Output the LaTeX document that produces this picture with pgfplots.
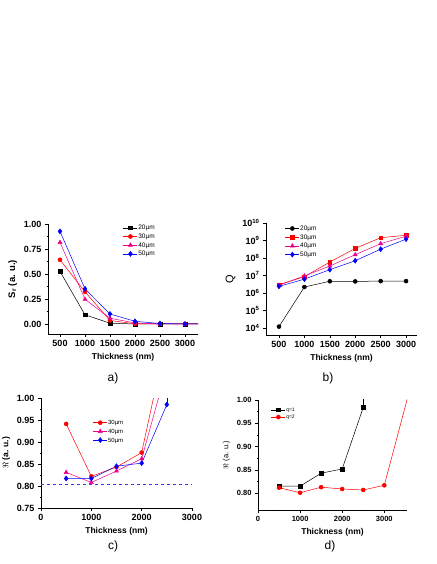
\documentclass[border=0pt]{standalone}
\usepackage{fontspec}
\setmainfont{Liberation Sans}
\usepackage{pgfplots}
\pgfplotsset{compat=1.18}

\definecolor{dashblue}{HTML}{3A3AD8}

\pgfplotsset{
  orig/.style={
    scale only axis,
    anchor=south west,
    axis lines=left,
    axis line style={-, line width=0.6pt},
    tick align=outside,
    major tick length=3pt,
    minor tick length=1.5pt,
    every tick/.style={black, line width=0.5pt},
    tick label style={font=\fontsize{9}{10}\selectfont\bfseries},
    /pgf/number format/assume math mode=true,
    /pgf/number format/1000 sep={},
    label style={font=\fontsize{8.5}{10}\selectfont\bfseries},
    legend style={draw=none, fill=none, anchor=north west,
      font=\fontsize{6.5}{7}\selectfont, inner sep=0pt, row sep=1.5pt,
      nodes={inner sep=0.6pt, text height=5pt, text depth=1pt}},
    legend cell align=left,
    legend image code/.code={\draw[mark repeat=2,mark phase=2,##1]
      plot coordinates {(0pt,0pt) (7pt,0pt) (14pt,0pt)};},
    every axis plot/.append style={line width=0.5pt, mark size=2pt},
  },
}

\begin{document}
\begin{tikzpicture}
\path[use as bounding box] (0pt,0pt) rectangle (436pt,564pt);

% a)
\begin{axis}[orig,
  at={(48pt,230pt)}, width=150pt, height=110pt,
  xmin=260, xmax=3260, ymin=-0.1, ymax=1.0,
  xtick={500,1000,...,3000}, ytick={0,0.25,...,1.0},
  minor x tick num=1, minor y tick num=1,
  yticklabel style={/pgf/number format/.cd, fixed, fixed zerofill, precision=2},
  xlabel={Thickness (nm)}, ylabel={S\textsubscript{r} (a. u.)},
  ylabel style={font=\fontsize{9.5}{10}\selectfont\bfseries},
  legend style={at={(0.5,1.0)}},
]
\addplot[black, mark=square*, mark size=1.8pt] coordinates {(500,0.525) (1000,0.092) (1500,0.008) (2000,0.0) (2500,0.0) (3000,0.0) (3500,0.0)};
\addplot[red, mark=*] coordinates {(500,0.642) (1000,0.322) (1500,0.035) (2000,0.002) (2500,0.0) (3000,0.0) (3500,0.0)};
\addplot[magenta, mark=triangle*, mark size=2.3pt] coordinates {(500,0.816) (1000,0.247) (1500,0.058) (2000,0.01) (2500,0.001) (3000,0.0) (3500,0.0)};
\addplot[blue, mark=diamond*, mark size=2.5pt] coordinates {(500,0.926) (1000,0.352) (1500,0.100) (2000,0.027) (2500,0.005) (3000,0.0) (3500,0.0)};
\legend{20µm,30µm,40µm,50µm}
\end{axis}

% b)
\begin{axis}[orig,
  at={(266pt,229pt)}, width=151pt, height=112pt,
  xmin=245, xmax=3215, ymode=log, log basis y=10, ymin=4e3, ymax=1e10,
  xtick={500,1000,...,3000}, minor x tick num=1,
  ytick={1e4,1e5,1e6,1e7,1e8,1e9,1e10},
  yticklabel={10\textsuperscript{\pgfmathparse{int(round(\tick))}\pgfmathresult}},
  xlabel={Thickness (nm)}, ylabel={Q},
  ylabel style={font=\fontsize{11}{12}\selectfont},
  legend style={at={(0.125,0.985)}},
]
\addplot[black, mark=*] coordinates {(500,1.2e4) (1000,2.2e6) (1500,4.7e6) (2000,4.6e6) (2500,4.8e6) (3000,4.8e6)};
\addplot[red, mark=square*, mark size=1.8pt] coordinates {(500,3.0e6) (1000,8.5e6) (1500,5.9e7) (2000,3.5e8) (2500,1.45e9) (3000,2.0e9)};
\addplot[magenta, mark=triangle*, mark size=2.3pt] coordinates {(500,2.8e6) (1000,9.5e6) (1500,3.5e7) (2000,1.55e8) (2500,6.6e8) (3000,1.75e9)};
\addplot[blue, mark=diamond*, mark size=2.5pt] coordinates {(500,2.4e6) (1000,6.2e6) (1500,2.15e7) (2000,7.0e7) (2500,3.2e8) (3000,1.2e9)};
\legend{20µm,30µm,40µm,50µm}
\end{axis}

% c)
\begin{axis}[orig,
  at={(41pt,56pt)}, width=151pt, height=110pt,
  xmin=0, xmax=3000, ymin=0.75, ymax=1.0,
  xtick={0,1000,2000,3000}, ytick={0.75,0.80,...,1.0},
  minor x tick num=1, minor y tick num=1,
  yticklabel style={/pgf/number format/.cd, fixed, fixed zerofill, precision=2},
  xlabel={Thickness (nm)}, ylabel={$\Re$ (a. u.)},
  legend style={at={(0.343,0.81)}, font=\fontsize{6}{7}\selectfont},
]
\addplot[dashblue, dashed, line width=1pt, forget plot] coordinates {(0,0.804) (3000,0.804)};
\addplot[red, mark=*] coordinates {(500,0.941) (1000,0.822) (1500,0.843) (2000,0.876) (2500,1.14)};
\addplot[magenta, mark=triangle*, mark size=2.3pt] coordinates {(500,0.831) (1000,0.808) (1500,0.834) (2000,0.862) (2500,1.068)};
\addplot[blue, mark=diamond*, mark size=2.5pt,
  error bars/.cd, y dir=plus, y explicit, error mark=none,
  error bar style={blue, line width=0.6pt}] coordinates {(500,0.817) +- (0,0) (1000,0.817) +- (0,0) (1500,0.845) +- (0,0) (2000,0.852) +- (0,0) (2500,0.985) +- (0,0.04)};
\legend{30µm,40µm,50µm}
\end{axis}

% d)
\begin{axis}[orig,
  at={(258pt,54pt)}, width=149pt, height=110pt,
  xmin=0, xmax=3540, ymin=0.764, ymax=1.0,
  xtick={0,1000,2000,3000}, ytick={0.80,0.85,...,1.0},
  minor x tick num=1, minor y tick num=1,
  tick label style={font=\fontsize{7.5}{9}\selectfont\bfseries},
  yticklabel style={/pgf/number format/.cd, fixed, fixed zerofill, precision=2},
  xlabel={Thickness (nm)}, ylabel={$\Re$ (a. u.)},
  ylabel style={font=\fontsize{7.5}{9}\selectfont},
  legend style={at={(0.087,0.94)}, font=\fontsize{5}{6}\selectfont,
    nodes={text height=4pt, text depth=1pt}, row sep=1pt},
]
\addplot[black, mark=square*, mark size=1.8pt,
  error bars/.cd, y dir=plus, y explicit, error mark=none,
  error bar style={black, line width=0.6pt}] coordinates {(500,0.815) +- (0,0) (1000,0.815) +- (0,0) (1500,0.843) +- (0,0) (2000,0.852) +- (0,0) (2500,0.984) +- (0,0.04)};
\addplot[red, mark=*] coordinates {(500,0.812) (1000,0.801) (1500,0.813) (2000,0.809) (2500,0.807) (3000,0.817) (4000,1.156)};
\legend{q=1,q=2}
\end{axis}

\node[font=\fontsize{12}{14}\selectfont] at (113pt,186pt) {a)};
\node[font=\fontsize{12}{14}\selectfont] at (328pt,186pt) {b)};
\node[font=\fontsize{12}{14}\selectfont] at (113pt,18pt) {c)};
\node[font=\fontsize{12}{14}\selectfont] at (330pt,18pt) {d)};
\end{tikzpicture}
\end{document}
